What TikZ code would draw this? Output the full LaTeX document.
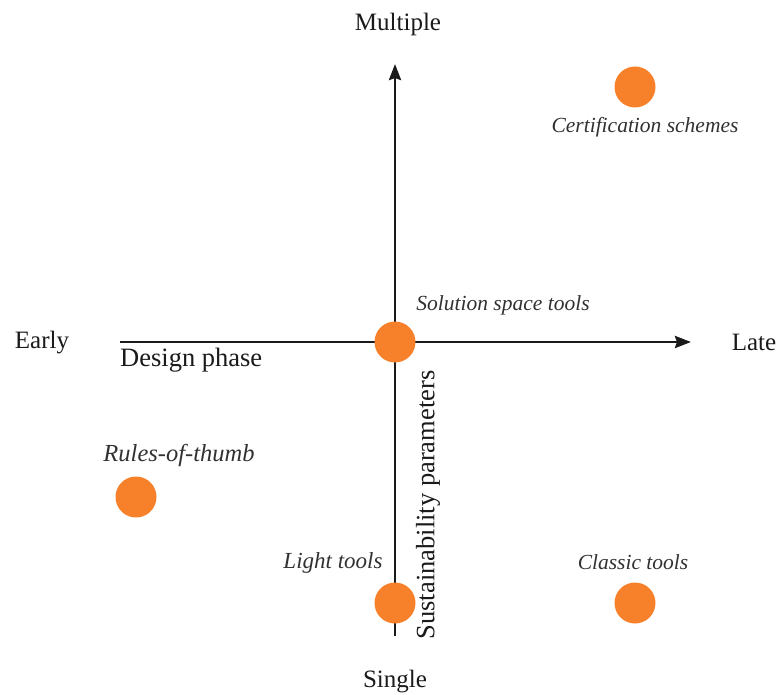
\documentclass[tikz,border=0pt]{standalone}
\usepackage{fontspec}
\setmainfont{Liberation Serif}
\usetikzlibrary{arrows.meta}
\definecolor{dotorange}{HTML}{F7802A}
\definecolor{axisgray}{HTML}{1A1A1A}
\begin{document}
\begin{tikzpicture}[x=1pt,y=-1pt,
  dot/.style={circle,fill=dotorange,draw=none,minimum size=41pt,inner sep=0pt},
  axisline/.style={draw=axisgray,line width=2.9pt,-{Stealth[length=16pt,width=12pt,inset=2pt]}},
  uptext/.style={font=\fontsize{25}{30}\selectfont,text=axisgray,inner sep=0pt},
  ittext/.style={font=\fontsize{21.5}{26}\selectfont\itshape,text=axisgray!90,inner sep=0pt}]
\useasboundingbox (0,0) rectangle (782,695);
% axes
\coordinate (hstart) at (120,342);
\coordinate (hend) at (691,342);
\coordinate (vstart) at (395,636);
\coordinate (vend) at (395,64);
\draw[axisline] (hstart) -- (hend);
\draw[axisline] (vstart) -- (vend);
% dots
\node[dot] (cert) at (635,87) {};
\node[dot] (sol) at (395,342) {};
\node[dot] (rules) at (136,497) {};
\node[dot] (light) at (395,603) {};
\node[dot] (classic) at (635,603) {};
% axis labels
\node[uptext] (multiple) at (398,24) {Multiple};
\node[uptext] (single) at (395,682) {Single};
\node[uptext] (early) at (42,343) {Early};
\node[uptext] (late) at (754,342) {Late};
\node[uptext,anchor=west,font=\fontsize{26.5}{30}\selectfont] (design) at (120,360) {Design phase};
\node[uptext,rotate=90,font=\fontsize{26.5}{30}\selectfont] (sust) at (428,505) {Sustainability parameters};
% italic labels
\node[ittext] (certlab) at (645,127) {Certification schemes};
\node[ittext] (sollab) at (503,305) {Solution space tools};
\node[ittext,font=\fontsize{24.5}{26}\selectfont\itshape] (ruleslab) at (179,455) {Rules-of-thumb};
\node[ittext,font=\fontsize{23}{26}\selectfont\itshape] (lightlab) at (333,563) {Light tools};
\node[ittext] (classiclab) at (633,562) {Classic tools};
\end{tikzpicture}
\end{document}
